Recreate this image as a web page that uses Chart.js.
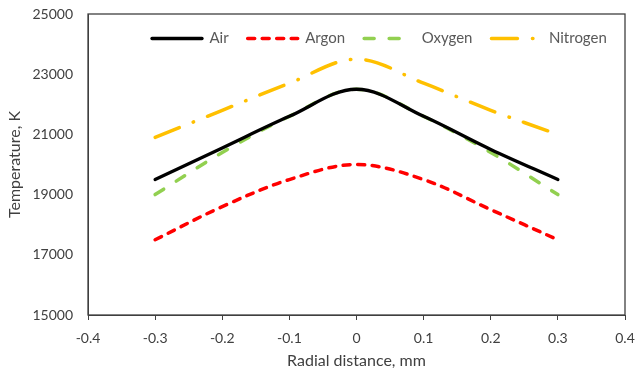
<!DOCTYPE html>
<html>
<head>
<meta charset="utf-8">
<script src="https://cdn.jsdelivr.net/npm/chart.js@4/dist/chart.umd.min.js"></script>
<style>
  html, body { margin: 0; padding: 0; background: #fff; }
  #wrap { width: 636px; height: 379px; }
</style>
</head>
<body>
<div id="wrap"><canvas id="chart" width="636" height="379"></canvas></div>
<script>
var radius = [-0.3, -0.2, -0.1, 0, 0.1, 0.2, 0.3];
var air = [19500, 20550, 21600, 22500, 21600, 20500, 19500];
var argon = [17500, 18600, 19500, 20000, 19500, 18500, 17500];
var oxygen = [19000, 20400, 21600, 22500, 21600, 20400, 19000];
var nitrogen = [20900, 21800, 22700, 23500, 22700, 21800, 21000];

function pts(arr) {
    return radius.map(function(x, i) { return {x: x, y: arr[i]}; });
}

var font = "Lato, 'Liberation Sans', sans-serif";

// frame round the plot area
var boxPlugin = {
    id: 'box',
    afterDraw: function(chart) {
        var a = chart.chartArea, ctx = chart.ctx;
        ctx.save();
        ctx.strokeStyle = '#404040';
        ctx.lineWidth = 1.3;
        ctx.strokeRect(a.left, a.top, a.right - a.left, a.bottom - a.top);
        ctx.restore();
    }
};

// legend laid out as one row inside the plot area
var legendRow = {
    id: 'legendRow',
    beforeUpdate: function(chart) {
        if (chart.legend) chart.legend.isHorizontal = function() { return true; };
    },
    afterLayout: function(chart) {
        var lg = chart.legend;
        if (!lg) return;
        var pad = lg.options.labels.padding;
        lg.left = 152 - pad;
        lg.right = chart.width + 100;
        lg.top = 31 - pad;
    }
};

var ctx = document.getElementById("chart").getContext("2d");

var myChart = new Chart(ctx, {
    type: 'line',
    data: {
        datasets: [
            {label: 'Air', data: pts(air), borderColor: '#000000', borderWidth: 3.3},
            {label: 'Argon', data: pts(argon), borderColor: '#FF0000', borderWidth: 3.5, borderDash: [7, 7.5]},
            {label: 'Oxygen', data: pts(oxygen), borderColor: '#92D050', borderWidth: 3.5, borderDash: [10, 15]},
            {label: 'Nitrogen', data: pts(nitrogen), borderColor: '#FFC000', borderWidth: 3.5, borderDash: [26, 15, 0.5, 15]}
        ]
    },
    options: {
        responsive: false,
        animation: false,
        elements: {
            point: {radius: 0, pointStyle: 'line'},
            line: {tension: 0.35, fill: false, borderCapStyle: 'round'}
        },
        layout: {padding: {left: 0, right: 11, top: 14, bottom: 0}},
        plugins: {
            legend: {
                position: 'chartArea',
                align: 'start',
                labels: {
                    usePointStyle: true,
                    pointStyle: 'line',
                    pointStyleWidth: 50,
                    boxHeight: 8,
                    boxWidth: 50,
                    padding: 19,
                    color: '#595959',
                    font: {family: font, size: 15},
                    generateLabels: function(chart) {
                        var items = Chart.defaults.plugins.legend.labels.generateLabels(chart);
                        items.forEach(function(it, i) {
                            var ds = chart.data.datasets[i];
                            it.lineDash = ds.borderDash || [];
                            it.lineWidth = ds.borderWidth;
                            it.strokeStyle = ds.borderColor;
                            it.lineCap = 'round';
                        });
                        return items;
                    }
                }
            },
            tooltip: {enabled: false}
        },
        scales: {
            x: {
                type: 'linear',
                min: -0.4,
                max: 0.4,
                ticks: {
                    stepSize: 0.1,
                    color: '#404040',
                    font: {family: font, size: 14},
                    padding: 10,
                    callback: function(v) {
                        var s = Number(v.toFixed(1));
                        return s === 0 ? '0' : String(s);
                    }
                },
                grid: {display: true, drawOnChartArea: false, drawTicks: true, tickLength: 5, color: '#404040'},
                border: {display: true, color: '#404040'},
                title: {display: true, text: 'Radial distance, mm', color: '#404040', font: {family: font, size: 16}, padding: {top: 0, bottom: 9}},
                afterFit: function(s) {
                    s.height = 379 - 315;
                    s.paddingLeft = 0;
                    s.paddingRight = 0;
                }
            },
            y: {
                min: 15000,
                max: 25000,
                ticks: {
                    stepSize: 2000,
                    color: '#404040',
                    font: {family: font, size: 14},
                    padding: 15,
                    callback: function(v) { return String(v); }
                },
                grid: {display: false, drawTicks: false},
                border: {display: true, color: '#404040'},
                title: {display: true, text: 'Temperature, K', color: '#404040', font: {family: font, size: 16}, padding: {top: 5, bottom: 4}},
                afterFit: function(s) {
                    s.width = 88;
                    s.paddingTop = 0;
                    s.paddingBottom = 0;
                }
            }
        }
    },
    plugins: [boxPlugin, legendRow]
});
</script>
</body>
</html>
